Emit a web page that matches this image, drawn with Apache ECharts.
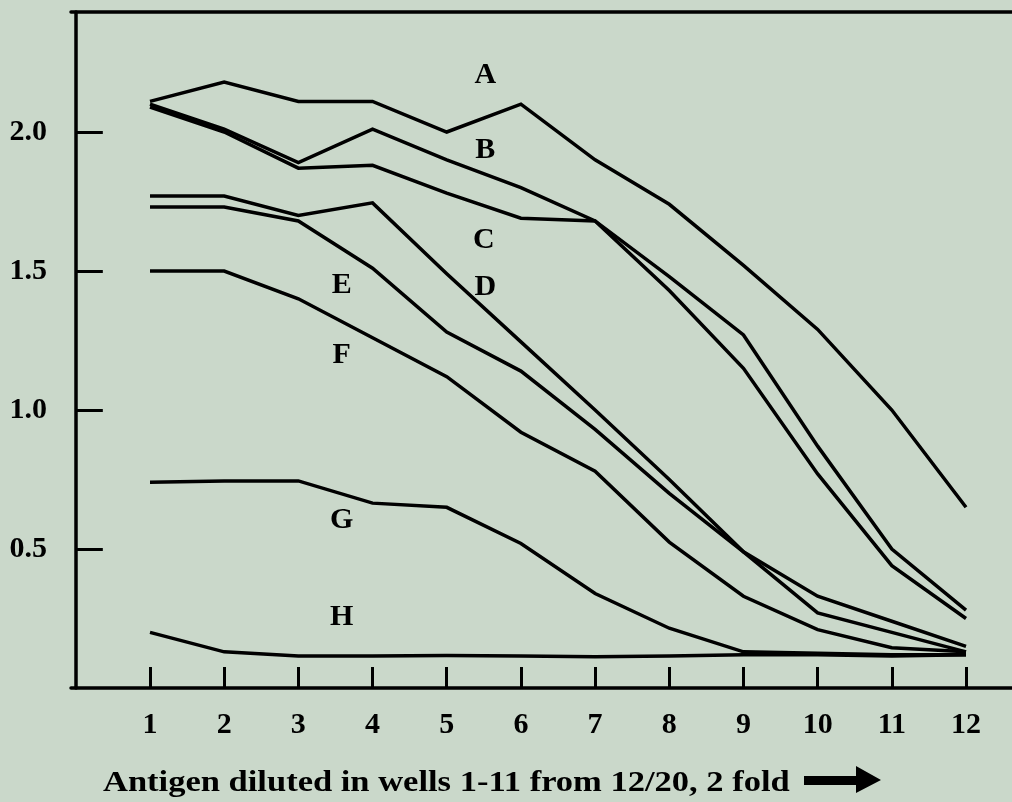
<!DOCTYPE html>
<html>
<head>
<meta charset="utf-8">
<script src="https://cdn.jsdelivr.net/npm/echarts/dist/echarts.min.js"></script>
<style>
  html, body { margin: 0; padding: 0; background: #cad8ca; }
  #chart { width: 1012px; height: 802px; }
</style>
</head>
<body>
<div id="chart"></div>
<script>
// Well numbers (x) and tick labels
const wells = [1, 2, 3, 4, 5, 6, 7, 8, 9, 10, 11, 12];
const yTicks = [0.5, 1.0, 1.5, 2.0];
const seriesNames = ['A', 'B', 'C', 'D', 'E', 'F', 'G', 'H'];

// Absorbance values, wells 1..12
const serA = [2.11, 2.18, 2.11, 2.11, 2.00, 2.10, 1.90, 1.74, 1.52, 1.29, 1.00, 0.65];
const serB = [2.10, 2.01, 1.89, 2.01, 1.90, 1.80, 1.68, 1.48, 1.27, 0.87, 0.50, 0.28];
const serC = [2.09, 2.00, 1.87, 1.88, 1.78, 1.69, 1.68, 1.43, 1.15, 0.77, 0.44, 0.25];
const serD = [1.77, 1.77, 1.70, 1.745, 1.49, 1.245, 1.00, 0.75, 0.49, 0.33, 0.24, 0.15];
const serE = [1.73, 1.73, 1.68, 1.51, 1.28, 1.14, 0.93, 0.70, 0.49, 0.27, 0.20, 0.13];
const serF = [1.50, 1.50, 1.40, 1.26, 1.12, 0.92, 0.78, 0.525, 0.33, 0.21, 0.145, 0.13];
const serG = [0.74, 0.745, 0.745, 0.665, 0.65, 0.52, 0.34, 0.215, 0.13, 0.125, 0.12, 0.12];
const serH = [0.20, 0.13, 0.115, 0.115, 0.117, 0.115, 0.112, 0.115, 0.12, 0.12, 0.115, 0.12];

// where each series letter sits, in data units [well, value]
const seriesLabelAnchors = [
  [5.52, 2.205], [5.52, 1.935], [5.50, 1.61], [5.52, 1.44],
  [3.585, 1.45], [3.585, 1.198], [3.585, 0.604], [3.585, 0.255]
];

const allSeries = [serA, serB, serC, serD, serE, serF, serG, serH];

const serif = '"Liberation Serif", "DejaVu Serif", serif';
const chart = echarts.init(document.getElementById('chart'), null, { renderer: 'canvas' });

const lineSeries = allSeries.map((vals, i) => ({
  name: seriesNames[i],
  type: 'line',
  data: wells.map((w, j) => [w, vals[j]]),
  symbol: 'none',
  smooth: false,
  lineStyle: { color: '#000', width: 3.5, join: 'miter' },
  z: 3
}));

const labelSeries = {
  type: 'scatter',
  symbolSize: 0,
  itemStyle: { opacity: 1, color: '#000' },
  data: seriesLabelAnchors.map((p, i) => ({ value: p, name: seriesNames[i] })),
  label: {
    show: true,
    position: 'inside',
    formatter: p => p.name,
    color: '#000',
    opacity: 1,
    fontFamily: serif,
    fontWeight: 'bold',
    fontSize: 30
  },
  z: 4
};

const axisLineStyle = { color: '#000', width: 3.5 };
const xMin = -0.065, xMax = 12.62;

chart.setOption({
  animation: false,
  backgroundColor: '#cad8ca',
  grid: { left: 71, top: 12, right: 0, bottom: 114 },
  xAxis: [
    {
      type: 'value',
      position: 'bottom',
      min: xMin,
      max: xMax,
      axisLine: { show: true, lineStyle: axisLineStyle },
      axisTick: {
        show: true, inside: true, length: 21, customValues: wells,
        lineStyle: { color: '#000', width: 3 }
      },
      axisLabel: {
        customValues: wells,
        color: '#000', fontFamily: serif, fontWeight: 'bold', fontSize: 30,
        margin: 22
      },
      splitLine: { show: false }
    },
    {
      type: 'value',
      position: 'top',
      min: xMin,
      max: xMax,
      axisLine: { show: true, lineStyle: axisLineStyle },
      axisTick: { show: false },
      axisLabel: { show: false },
      splitLine: { show: false }
    }
  ],
  yAxis: {
    type: 'value',
    min: 0,
    max: 2.4317,
    axisLine: { show: true, lineStyle: axisLineStyle },
    axisTick: {
      show: true, inside: true, length: 27, customValues: yTicks,
      lineStyle: { color: '#000', width: 3 }
    },
    axisLabel: {
      customValues: yTicks,
      formatter: v => Number(v).toFixed(1),
      color: '#000', fontFamily: serif, fontWeight: 'bold', fontSize: 30,
      margin: 24
    },
    splitLine: { show: false }
  },
  graphic: [
    {
      type: 'text',
      x: 103,
      y: 769,
      scaleX: 1.19,
      style: {
        text: 'Antigen diluted in wells 1-11 from 12/20, 2 fold',
        fill: '#000',
        font: 'bold 29px ' + serif
      }
    },
    {
      type: 'polygon',
      shape: {
        points: [[804, 776], [856, 776], [856, 766], [881, 780], [856, 793], [856, 785], [804, 785]]
      },
      style: { fill: '#000' }
    }
  ],
  series: lineSeries.concat([labelSeries])
});
</script>
</body>
</html>
